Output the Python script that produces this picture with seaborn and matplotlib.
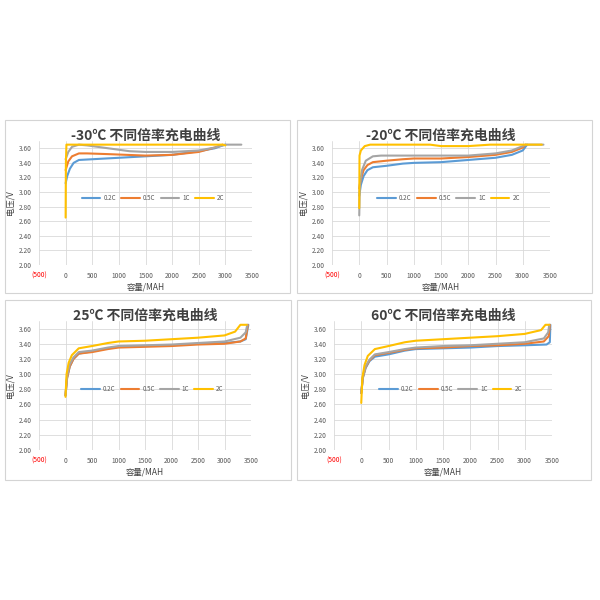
import matplotlib
matplotlib.use("Agg")
import matplotlib.pyplot as plt
from matplotlib.patches import Rectangle
import seaborn as sns
import pandas as pd

# series names / colours (excel defaults)
rates = ["0.2C", "0.5C", "1C", "2C"]
colors = ["#5B9BD5", "#ED7D31", "#A5A5A5", "#FFC000"]

titles = ["-30℃ 不同倍率充电曲线", "-20℃ 不同倍率充电曲线",
          "25℃ 不同倍率充电曲线", "60℃ 不同倍率充电曲线"]

xticks = [-500, 0, 500, 1000, 1500, 2000, 2500, 3000, 3500]
xtick_labels = ["(500)", "0", "500", "1000", "1500", "2000", "2500", "3000", "3500"]
yticks = [2.0, 2.2, 2.4, 2.6, 2.8, 3.0, 3.2, 3.4, 3.6]

# -30C
m30_cap = {
    "0.2C": [0, 30, 80, 150, 250, 500, 1000, 1500, 2000, 2500, 2800, 2950, 3000],
    "0.5C": [0, 50, 120, 250, 400, 800, 1500, 2000, 2500, 2800, 2950],
    "1C": [0, 50, 120, 250, 400, 800, 1200, 1500, 2000, 2500, 2800, 3000, 3300],
    "2C": [0, 5, 15, 1000, 2000, 2950, 3000],
}
m30_volt = {
    "0.2C": [3.12, 3.22, 3.32, 3.40, 3.44, 3.45, 3.47, 3.49, 3.51, 3.56, 3.60, 3.64, 3.65],
    "0.5C": [3.30, 3.42, 3.49, 3.53, 3.53, 3.52, 3.50, 3.51, 3.55, 3.61, 3.65],
    "1C": [3.45, 3.55, 3.62, 3.65, 3.64, 3.60, 3.56, 3.55, 3.55, 3.57, 3.61, 3.65, 3.65],
    "2C": [2.65, 3.40, 3.65, 3.65, 3.65, 3.65, 3.64],
}

# -20C
m20_cap = {
    "0.2C": [0, 30, 80, 150, 250, 500, 800, 1000, 1500, 2000, 2500, 2800, 3000, 3080],
    "0.5C": [0, 30, 80, 150, 250, 500, 800, 1000, 1500, 2000, 2500, 2800, 3000, 3050],
    "1C": [0, 10, 50, 120, 250, 400, 1000, 1500, 2000, 2500, 2800, 3000, 3050, 3380],
    "2C": [0, 5, 30, 100, 200, 1300, 1500, 2000, 2400, 3350],
}
m20_volt = {
    "0.2C": [2.95, 3.10, 3.22, 3.30, 3.34, 3.36, 3.39, 3.40, 3.41, 3.44, 3.47, 3.51, 3.57, 3.65],
    "0.5C": [3.05, 3.18, 3.30, 3.37, 3.41, 3.43, 3.45, 3.46, 3.46, 3.48, 3.51, 3.55, 3.61, 3.65],
    "1C": [2.68, 3.10, 3.30, 3.43, 3.49, 3.50, 3.50, 3.50, 3.50, 3.53, 3.57, 3.63, 3.65, 3.65],
    "2C": [2.78, 3.50, 3.57, 3.63, 3.65, 3.65, 3.63, 3.63, 3.65, 3.65],
}

# 25C
p25_cap = {
    "0.2C": [0, 30, 80, 150, 250, 500, 800, 1000, 1500, 2000, 2500, 3000, 3300, 3400, 3450],
    "0.5C": [0, 30, 80, 150, 250, 500, 800, 1000, 1500, 2000, 2500, 3000, 3300, 3400, 3440],
    "1C": [0, 30, 80, 150, 250, 500, 800, 1000, 1500, 2000, 2500, 3000, 3300, 3400, 3430],
    "2C": [0, 20, 60, 120, 250, 500, 800, 1000, 1500, 2000, 2500, 3000, 3200, 3300, 3420],
}
p25_volt = {
    "0.2C": [2.72, 2.95, 3.10, 3.20, 3.27, 3.30, 3.34, 3.36, 3.37, 3.38, 3.40, 3.41, 3.43, 3.46, 3.65],
    "0.5C": [2.72, 2.95, 3.10, 3.20, 3.27, 3.29, 3.33, 3.35, 3.36, 3.37, 3.39, 3.40, 3.43, 3.47, 3.65],
    "1C": [2.72, 2.98, 3.13, 3.22, 3.29, 3.31, 3.35, 3.37, 3.38, 3.39, 3.41, 3.43, 3.48, 3.55, 3.65],
    "2C": [2.70, 3.00, 3.15, 3.25, 3.34, 3.37, 3.41, 3.43, 3.44, 3.46, 3.48, 3.51, 3.56, 3.65, 3.65],
}

# 60C
p60_cap = {
    "0.2C": [0, 30, 80, 150, 250, 500, 800, 1000, 1500, 2000, 2500, 3000, 3400, 3460, 3470],
    "0.5C": [0, 30, 80, 150, 250, 500, 800, 1000, 1500, 2000, 2500, 3000, 3350, 3440, 3460],
    "1C": [0, 30, 80, 150, 250, 500, 800, 1000, 1500, 2000, 2500, 3000, 3350, 3430, 3450],
    "2C": [0, 20, 60, 120, 250, 500, 800, 1000, 1500, 2000, 2500, 3000, 3300, 3380, 3450],
}
p60_volt = {
    "0.2C": [2.75, 2.95, 3.08, 3.17, 3.23, 3.26, 3.31, 3.33, 3.34, 3.35, 3.37, 3.38, 3.39, 3.42, 3.65],
    "0.5C": [2.75, 2.96, 3.09, 3.18, 3.25, 3.28, 3.32, 3.34, 3.35, 3.37, 3.38, 3.40, 3.43, 3.50, 3.65],
    "1C": [2.75, 2.97, 3.10, 3.19, 3.26, 3.29, 3.33, 3.35, 3.37, 3.38, 3.40, 3.42, 3.47, 3.55, 3.65],
    "2C": [2.62, 2.95, 3.12, 3.24, 3.33, 3.37, 3.42, 3.44, 3.46, 3.48, 3.50, 3.53, 3.58, 3.65, 3.65],
}

panels = [(m30_cap, m30_volt), (m20_cap, m20_volt), (p25_cap, p25_volt), (p60_cap, p60_volt)]

sns.set_theme(style="whitegrid")
plt.rcParams["font.family"] = ["Noto Sans CJK SC", "DejaVu Sans"]

fig = plt.figure(figsize=(6, 6), dpi=100)
fig.patch.set_facecolor("white")

# panel frames (px: left, top, right, bottom)
frames = [(5, 120, 290, 293), (297, 120, 592, 293), (5, 300, 291, 480), (297, 300, 591, 480)]
# plot areas (px: left, top, right, bottom)
areas = [(39, 141, 252, 265), (332, 141, 550, 265), (39, 321, 251, 450), (334, 321, 552, 450)]
legend_y = [0.54, 0.54, 0.47, 0.47]

for f in frames:
    fig.patches.append(Rectangle((f[0] / 600, 1 - f[3] / 600), (f[2] - f[0]) / 600, (f[3] - f[1]) / 600,
                                 transform=fig.transFigure, fill=False, edgecolor="#D4D4D4", lw=0.8))

pal = dict(zip(rates, colors))

for i, (caps, volts) in enumerate(panels):
    a = areas[i]
    ax = fig.add_axes([a[0] / 600, 1 - a[3] / 600, (a[2] - a[0]) / 600, (a[3] - a[1]) / 600])
    rows = []
    for r in rates:
        for c, v in zip(caps[r], volts[r]):
            rows.append({"cap": c, "volt": v, "rate": r})
    df = pd.DataFrame(rows)
    sns.lineplot(data=df, x="cap", y="volt", hue="rate", palette=pal, sort=False,
                 estimator=None, lw=1.5, ax=ax)

    ax.set_xlim(-500, 3500)
    ax.set_ylim(2.0, 3.70)
    ax.set_xticks(xticks)
    ax.set_xticklabels(xtick_labels)
    ax.set_yticks(yticks)
    ax.set_yticklabels(["%.2f" % y for y in yticks])
    ax.tick_params(axis="both", labelsize=4.8, colors="#595959", length=0, pad=5)
    ax.get_xticklabels()[0].set_color("red")
    ax.grid(True, color="#D9D9D9", lw=0.6)
    ax.set_facecolor("white")
    for s in ax.spines.values():
        s.set_visible(False)

    ax.set_xlabel("容量/MAH", fontsize=6, color="#404040", labelpad=2)
    ax.set_ylabel("电压/V", fontsize=6, color="#404040", labelpad=3)
    ax.set_title(titles[i], fontsize=10, fontweight="bold", color="#404040", pad=1)

    h, l = ax.get_legend_handles_labels()
    ax.legend(h, l, loc="center", bbox_to_anchor=(0.535, legend_y[i]), ncol=4, frameon=False,
              fontsize=4.5, handlelength=3.0, columnspacing=0.8, handletextpad=0.5,
              labelcolor="#595959")

fig.savefig("out.png", dpi=100, facecolor="white")
